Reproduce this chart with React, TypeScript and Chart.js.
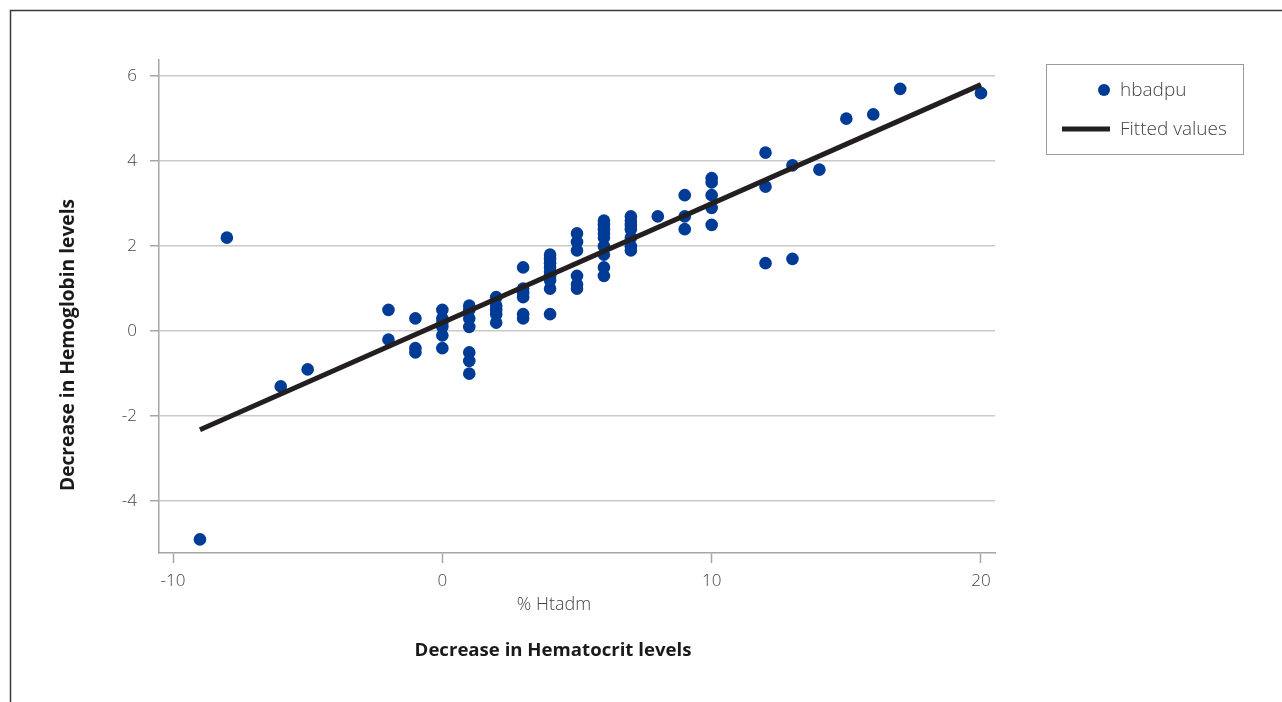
import React, { useEffect, useRef } from "react";
import { Chart, registerables } from "chart.js";

Chart.register(...registerables);

// % decrease in hematocrit (x) and decrease in hemoglobin (y)
const hctDecrease = [
  -9, -8, -6, -5,
  -2, -2,
  -1, -1, -1,
  0, 0, 0, 0, 0, 0,
  1, 1, 1, 1, 1, 1, 1,
  2, 2, 2, 2, 2,
  3, 3, 3, 3, 3, 3,
  4, 4, 4, 4, 4, 4, 4, 4, 4,
  5, 5, 5, 5, 5, 5,
  6, 6, 6, 6, 6, 6, 6, 6, 6,
  7, 7, 7, 7, 7, 7, 7,
  8,
  9, 9, 9,
  10, 10, 10, 10, 10,
  12, 12, 12,
  13, 13,
  14, 15, 16, 17, 20,
];
const hbDecrease = [
  -4.9, 2.2, -1.3, -0.9,
  0.5, -0.2,
  0.3, -0.4, -0.5,
  0.5, 0.3, 0.2, 0.1, -0.1, -0.4,
  0.6, 0.5, 0.3, 0.1, -0.5, -0.7, -1.0,
  0.8, 0.6, 0.5, 0.4, 0.2,
  1.5, 1.0, 0.9, 0.8, 0.4, 0.3,
  1.8, 1.7, 1.6, 1.5, 1.4, 1.3, 1.2, 1.0, 0.4,
  2.3, 2.1, 1.9, 1.3, 1.1, 1.0,
  2.6, 2.5, 2.4, 2.3, 2.2, 2.0, 1.8, 1.5, 1.3,
  2.7, 2.6, 2.5, 2.4, 2.2, 2.0, 1.9,
  2.7,
  3.2, 2.7, 2.4,
  3.6, 3.5, 3.2, 2.9, 2.5,
  4.2, 3.4, 1.6,
  3.9, 1.7,
  3.8, 5.0, 5.1, 5.7, 5.6,
];

// Fitted regression line end points
const fitX = [-9, 20];
const fitY = [-2.32, 5.8];

const xTicks = [-10, 0, 10, 20];
const yTicks = [-4, -2, 0, 2, 4, 6];

const seriesLabels = ["hbadpu", "Fitted values"];
const xAxisLabel = "% Htadm";
const xTitle = "Decrease in Hematocrit levels";
const yTitle = "Decrease in Hemoglobin levels";

const FONT = "'Open Sans', 'Noto Sans', 'DejaVu Sans', sans-serif";
const POINT_COLOR = "#003b96";
const LINE_COLOR = "#231f20";
const AXIS_COLOR = "#a6a6a6";
const GRID_COLOR = "#cacaca";
const TEXT_COLOR = "#444444";

const decorPlugin = {
  id: "decor",
  afterDraw(chart: any) {
    const ctx = chart.ctx as CanvasRenderingContext2D;
    const W = chart.width;
    const H = chart.height;
    ctx.save();

    // outer frame (left + top)
    ctx.strokeStyle = "#3a3a3a";
    ctx.lineWidth = 1.5;
    ctx.beginPath();
    ctx.moveTo(10.5, H);
    ctx.lineTo(10.5, 10.5);
    ctx.lineTo(W, 10.5);
    ctx.stroke();

    // axis sub-label and titles
    ctx.fillStyle = TEXT_COLOR;
    ctx.textAlign = "center";
    ctx.textBaseline = "middle";
    ctx.font = `300 18px ${FONT}`;
    ctx.fillText(xAxisLabel, 554, 605);

    ctx.fillStyle = "#1a1a1a";
    ctx.font = `bold 18.6px ${FONT}`;
    ctx.fillText(xTitle, 553, 651);

    ctx.save();
    ctx.translate(69, 345);
    ctx.rotate(-Math.PI / 2);
    ctx.font = `bold 19.2px ${FONT}`;
    ctx.fillText(yTitle, 0, 0);
    ctx.restore();

    // legend
    const lx = 1046.5, ly = 64.5, lw = 197, lh = 90;
    ctx.strokeStyle = "#9a9a9a";
    ctx.lineWidth = 1;
    ctx.strokeRect(lx, ly, lw, lh);

    ctx.fillStyle = POINT_COLOR;
    ctx.beginPath();
    ctx.arc(1104, 90, 6, 0, Math.PI * 2);
    ctx.fill();

    ctx.strokeStyle = LINE_COLOR;
    ctx.lineWidth = 5;
    ctx.beginPath();
    ctx.moveTo(1062, 129);
    ctx.lineTo(1110, 129);
    ctx.stroke();

    ctx.fillStyle = TEXT_COLOR;
    ctx.textAlign = "left";
    ctx.font = `300 19px ${FONT}`;
    ctx.fillText(seriesLabels[0], 1120, 91);
    ctx.fillText(seriesLabels[1], 1120, 130);

    ctx.restore();
  },
};

export default function App() {
  const ref = useRef<HTMLCanvasElement | null>(null);

  useEffect(() => {
    document.body.style.margin = "0";
    const canvas = ref.current;
    if (!canvas) return;

    const scatterData = hctDecrease.map((x, i) => ({ x, y: hbDecrease[i] }));
    const fitData = fitX.map((x, i) => ({ x, y: fitY[i] }));

    const chart = new Chart(canvas, {
      type: "scatter",
      data: {
        datasets: [
          {
            label: seriesLabels[0],
            data: scatterData,
            backgroundColor: POINT_COLOR,
            borderColor: POINT_COLOR,
            pointRadius: 6.3,
            pointHoverRadius: 6.3,
            borderWidth: 0,
            order: 2,
          },
          {
            label: seriesLabels[1],
            data: fitData,
            showLine: true,
            borderColor: LINE_COLOR,
            backgroundColor: LINE_COLOR,
            borderWidth: 5,
            pointRadius: 0,
            pointHoverRadius: 0,
            order: 1,
          } as any,
        ],
      },
      options: {
        responsive: false,
        animation: false,
        devicePixelRatio: 1,
        layout: { padding: { left: 0, right: 1282 - 995, top: 60, bottom: 0 } },
        plugins: {
          legend: { display: false },
          tooltip: { enabled: false },
          title: { display: false },
        },
        scales: {
          x: {
            type: "linear",
            min: -10.52,
            max: 20.52,
            afterBuildTicks: (s: any) => {
              s.ticks = xTicks.map((v) => ({ value: v }));
            },
            afterFit: (s: any) => {
              s.height = 149;
            },
            grid: {
              drawOnChartArea: false,
              drawTicks: true,
              tickLength: 10,
              tickColor: AXIS_COLOR,
              tickWidth: 1.5,
            },
            border: { display: true, color: AXIS_COLOR, width: 1.5 },
            ticks: {
              color: TEXT_COLOR,
              font: { family: FONT, size: 17, weight: "300" as any },
              padding: 8,
              maxRotation: 0,
            },
          },
          y: {
            type: "linear",
            min: -5.22,
            max: 6.38,
            afterBuildTicks: (s: any) => {
              s.ticks = yTicks.map((v) => ({ value: v }));
            },
            afterFit: (s: any) => {
              s.width = 159;
            },
            grid: {
              drawOnChartArea: true,
              color: GRID_COLOR,
              lineWidth: 1.5,
              drawTicks: true,
              tickLength: 9,
              tickColor: AXIS_COLOR,
              tickWidth: 1.5,
            },
            border: { display: true, color: AXIS_COLOR, width: 1.5 },
            ticks: {
              color: TEXT_COLOR,
              font: { family: FONT, size: 17, weight: "300" as any },
              padding: 13,
            },
          },
        },
      },
      plugins: [decorPlugin],
    });

    return () => chart.destroy();
  }, []);

  return (
    <canvas
      ref={ref}
      width={1282}
      height={702}
      style={{ display: "block", position: "absolute", left: 0, top: 0, width: 1282, height: 702 }}
    />
  );
}
